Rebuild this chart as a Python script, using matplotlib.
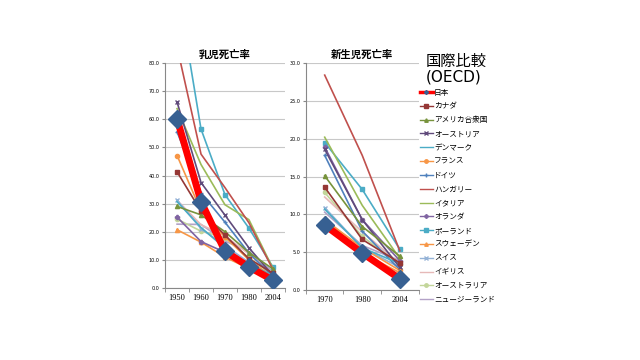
import matplotlib
matplotlib.use("Agg")
import matplotlib.pyplot as plt
from matplotlib.lines import Line2D

plt.rcParams['font.family'] = ['Noto Sans CJK JP', 'DejaVu Sans']

# infant mortality (per 1000), 1950-2004
years_inf = ["1950", "1960", "1970", "1980", "2004"]
# neonatal mortality, 1970-2004
years_neo = ["1970", "1980", "2004"]

countries = ["日本", "カナダ", "アメリカ合衆国", "オーストリア", "デンマーク", "フランス",
             "ドイツ", "ハンガリー", "イタリア", "オランダ", "ポーランド", "スウェーデン",
             "スイス", "イギリス", "オーストラリア", "ニュージーランド"]

infant = [
    [60.1, 30.7, 13.1, 7.5, 2.8],    # Japan
    [41.3, 27.3, 18.8, 10.4, 5.3],   # Canada
    [29.0, 26.0, 20.0, 12.6, 6.8],   # USA
    [66.1, 37.5, 25.9, 14.3, 4.5],   # Austria
    [30.7, 21.5, 14.2, 8.4, 4.4],    # Denmark
    [47.1, 27.4, 18.2, 10.0, 3.9],   # France
    [55.5, 33.8, 23.4, 12.4, 4.1],   # Germany
    [85.7, 47.6, 35.7, 23.2, 6.6],   # Hungary
    [63.8, 43.9, 29.6, 24.3, 7.0],   # Italy
    [25.2, 16.5, 12.7, 8.6, 4.1],    # Netherlands
    [108.0, 56.5, 33.2, 21.3, 7.5],  # Poland
    [20.7, 16.3, 11.0, 6.9, 3.1],    # Sweden
    [31.2, 21.1, 15.1, 9.1, 4.2],    # Switzerland
    [31.2, 22.5, 18.5, 12.1, 5.1],   # UK
    [24.5, 20.2, 17.9, 10.7, 4.7],   # Australia
    [22.7, 22.6, 16.7, 13.0, 5.8],   # New Zealand
]

neonatal = [
    [8.6, 4.9, 1.5],
    [13.6, 6.7, 3.6],
    [15.1, 8.4, 4.5],
    [18.6, 9.3, 3.0],
    [10.7, 5.6, 3.5],
    [9.3, 5.6, 2.6],
    [17.8, 7.8, 2.7],
    [28.4, 17.8, 5.2],
    [20.2, 11.2, 4.2],
    [18.9, 9.3, 3.9],
    [19.5, 13.3, 5.4],
    [9.5, 4.9, 2.3],
    [10.9, 5.6, 3.0],
    [12.3, 7.7, 3.5],
    [12.9, 7.1, 3.4],
    [10.3, 5.9, 3.9],
]

colors = ["#FF0000", "#953735", "#77933C", "#604A7B", "#4BACC6", "#F79646",
          "#4F81BD", "#C0504D", "#9BBB59", "#8064A2", "#4BACC6", "#F79646",
          "#95B3D7", "#E6B9B8", "#C3D69B", "#B3A2C7"]
markers = ["D", "s", "^", "x", "", "o", "+", "", "", "P", "s", "^", "x", "", "o", ""]

fig = plt.figure(figsize=(6.4, 3.6), dpi=100)
ax1 = fig.add_axes([0.258, 0.2, 0.187, 0.625])
ax2 = fig.add_axes([0.478, 0.194, 0.176, 0.631])


def draw(ax, years, data, ymax, step):
    xs = range(len(years))
    for i in range(len(countries) - 1, -1, -1):
        if i == 0:
            ax.plot(xs, data[i], color="#FF0000", lw=5, zorder=5)
            ax.plot(xs, data[i], ls="none", marker="D", ms=9,
                    color="#376092", zorder=6)
        else:
            ax.plot(xs, data[i], color=colors[i], lw=1.2, marker=markers[i],
                    ms=3, mew=1.0, zorder=3)
    ax.set_xlim(-0.5, len(years) - 0.5)
    ax.set_ylim(0, ymax)
    ax.set_xticks(list(xs))
    ax.set_xticklabels(years, fontsize=6, family="Liberation Serif")
    ax.set_xticks([x + 0.5 for x in range(-1, len(years))], minor=True)
    ax.tick_params(axis="x", which="major", length=0, pad=4)
    ax.tick_params(axis="x", which="minor", length=3, color="#888888")
    ax.set_yticks([step * k for k in range(int(ymax / step) + 1)])
    ax.set_yticklabels(["%.1f" % (step * k) for k in range(int(ymax / step) + 1)],
                       fontsize=3.5, family="DejaVu Sans")
    ax.tick_params(axis="y", length=2, color="#888888", pad=2)
    ax.grid(axis="y", color="#C8C8C8", lw=0.8)
    ax.set_axisbelow(True)
    for s in ["top", "right"]:
        ax.spines[s].set_visible(False)
    for s in ["left", "bottom"]:
        ax.spines[s].set_color("#888888")
        ax.spines[s].set_linewidth(0.8)


draw(ax1, years_inf, infant, 80, 10)
draw(ax2, years_neo, neonatal, 30, 5)
ax1.set_title("乳児死亡率", fontsize=7.5, fontweight="bold", pad=4)
ax2.set_title("新生児死亡率", fontsize=7.5, fontweight="bold", pad=4)

fig.text(0.665, 0.83, "国際比較", fontsize=11, va="center")
fig.text(0.665, 0.785, "(OECD)", fontsize=11, va="center", family="DejaVu Sans")

handles = []
for i, name in enumerate(countries):
    if i == 0:
        h = Line2D([], [], color="#FF0000", lw=2.5, marker="D", ms=2,
                   mfc="#376092", mec="#376092")
    else:
        h = Line2D([], [], color=colors[i], lw=1.0, marker=markers[i], ms=2.5)
    handles.append(h)
fig.legend(handles, countries, loc="upper left", bbox_to_anchor=(0.652, 0.762),
           frameon=False, fontsize=5.5, handlelength=1.6, handletextpad=0.2,
           labelspacing=0.76, borderaxespad=0)

fig.savefig("out.png", dpi=100)
